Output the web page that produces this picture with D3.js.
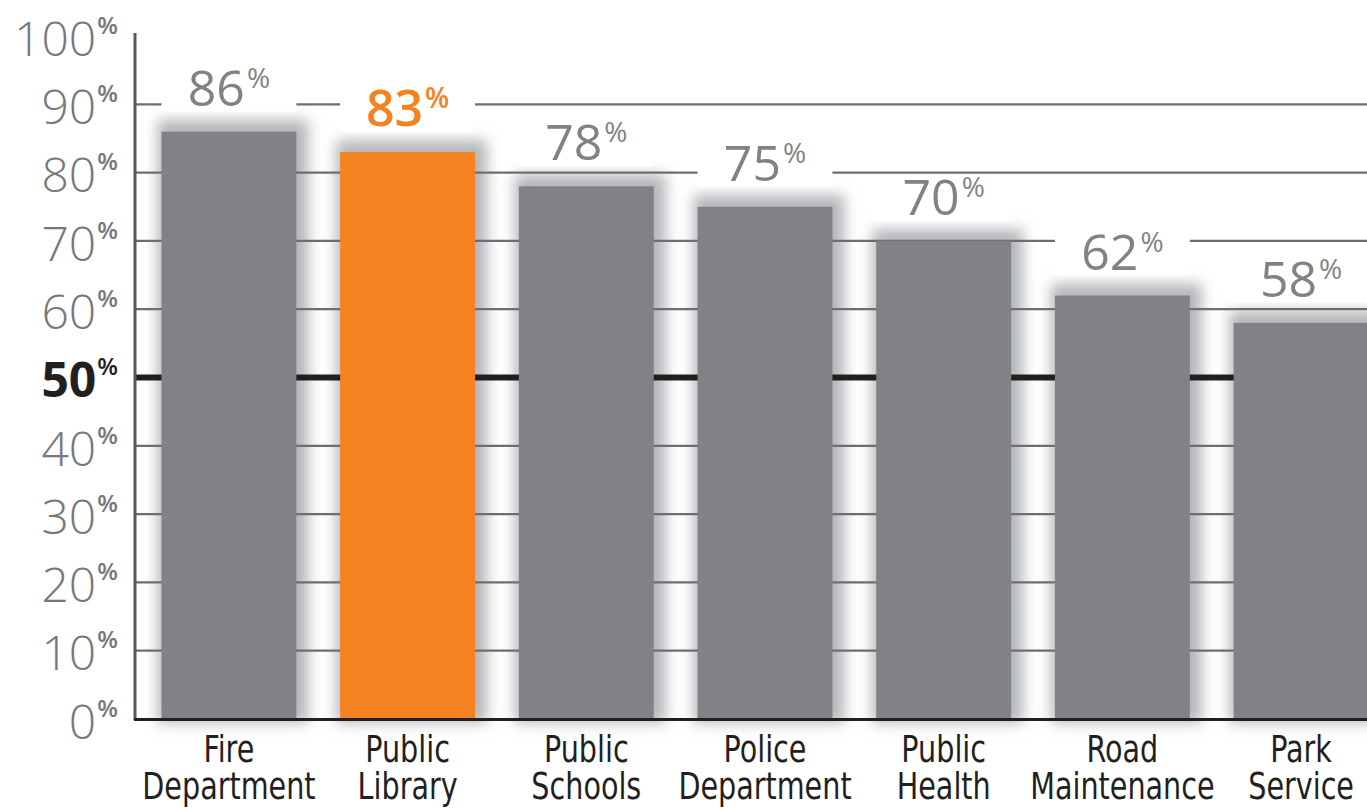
<!DOCTYPE html>
<html>
<head>
<meta charset="utf-8">
<script src="https://cdn.jsdelivr.net/npm/d3@7"></script>
<style>
  html, body { margin: 0; padding: 0; background: #ffffff; }
  svg { display: block; }
</style>
</head>
<body>
<svg id="chart" width="1367" height="809"></svg>
<script>
// Share of respondents rating each public service favourably
const categories = ["Fire Department", "Public Library", "Public Schools", "Police Department", "Public Health", "Road Maintenance", "Park Service"];
const values = [86, 83, 78, 75, 70, 62, 58];
const highlighted = ["Public Library"];
const yTicks = [0, 10, 20, 30, 40, 50, 60, 70, 80, 90, 100];
const gridTicks = [10, 20, 30, 40, 50, 60, 70, 80, 90];
const referenceTick = 50;

const W = 1367, H = 809;
const plotLeft = 135, plotRight = 1367, plotTop = 36, plotBottom = 719;

const svg = d3.select("#chart");
const numFont = "'Open Sans', 'DejaVu Sans', sans-serif";
const catFont = "'DejaVu Sans Condensed', 'DejaVu Sans', sans-serif";

const x = d3.scaleBand()
  .domain(categories)
  .range([plotLeft, 1395])
  .paddingInner(0.245)
  .paddingOuter(0.148);

const y = d3.scaleLinear().domain([0, 100]).range([plotBottom, plotTop]);

const rows = categories.map((c, i) => ({ cat: c, value: values[i], hi: highlighted.includes(c) }));

// soft shadow filter around each bar
const defs = svg.append("defs");
defs.append("filter")
  .attr("id", "soft")
  .attr("x", "-40%").attr("y", "-40%")
  .attr("width", "180%").attr("height", "180%")
  .append("feGaussianBlur").attr("stdDeviation", 7);

const plot = svg.append("g");

// bar glow
plot.append("g").selectAll("rect")
  .data(rows)
  .join("rect")
  .attr("x", d => x(d.cat) - 4)
  .attr("y", d => y(d.value) - 12)
  .attr("width", x.bandwidth() + 16)
  .attr("height", d => plotBottom - y(d.value) + 16)
  .attr("fill", "#b4b6b9")
  .attr("filter", "url(#soft)");

// horizontal gridlines
plot.append("g").selectAll("line")
  .data(gridTicks)
  .join("line")
  .attr("x1", plotLeft).attr("x2", plotRight)
  .attr("y1", d => y(d)).attr("y2", d => y(d))
  .attr("stroke", d => d === referenceTick ? "#231f20" : "#6d6e71")
  .attr("stroke-width", d => d === referenceTick ? 6 : 2.2);

// white backing behind value labels
plot.append("g").selectAll("rect")
  .data(rows)
  .join("rect")
  .attr("x", d => x(d.cat))
  .attr("y", d => y(d.value) - 66)
  .attr("width", x.bandwidth())
  .attr("height", 46)
  .attr("fill", "#ffffff");

// bars
plot.append("g").selectAll("rect")
  .data(rows)
  .join("rect")
  .attr("x", d => x(d.cat))
  .attr("y", d => y(d.value))
  .attr("width", x.bandwidth())
  .attr("height", d => plotBottom - y(d.value))
  .attr("fill", d => d.hi ? "#f58220" : "#808285");

// value labels
const vl = plot.append("g").selectAll("text")
  .data(rows)
  .join("text")
  .attr("x", d => x(d.cat) + x.bandwidth() / 2)
  .attr("y", d => y(d.value) - 26)
  .attr("text-anchor", "middle")
  .attr("font-family", numFont)
  .attr("fill", d => d.hi ? "#f58220" : "#808285")
  .attr("font-weight", d => d.hi ? 600 : 400);
vl.append("tspan").attr("font-size", 50).text(d => d.value);
vl.append("tspan").attr("font-size", 28).attr("dy", -18).attr("dx", 2).text("%");

// y axis
const yAxis = svg.append("g")
  .attr("transform", `translate(${plotLeft},0)`)
  .call(d3.axisLeft(y).tickValues(yTicks).tickSize(0).tickPadding(17).tickFormat(d => d));
yAxis.select(".domain").remove();
yAxis.selectAll(".tick text")
  .attr("font-family", numFont)
  .attr("font-size", 48)
  .attr("dy", "0.4em")
  .attr("fill", d => d === referenceTick ? "#231f20" : "#77787b")
  .attr("font-weight", d => d === referenceTick ? 700 : 300)
  .append("tspan")
  .attr("font-size", 24)
  .attr("font-weight", 600)
  .attr("dy", -22)
  .attr("dx", 1)
  .text("%");

svg.append("line")
  .attr("x1", plotLeft).attr("x2", plotLeft)
  .attr("y1", 33).attr("y2", plotBottom + 1)
  .attr("stroke", "#58595b").attr("stroke-width", 3);

// x axis: two-line category names in a narrow face
const xAxis = svg.append("g")
  .attr("transform", `translate(0,${plotBottom})`)
  .call(d3.axisBottom(x).tickSize(0).tickPadding(0));
xAxis.select(".domain").remove();
xAxis.selectAll(".tick text").each(function (d) {
  const t = d3.select(this);
  const parts = d.split(" ");
  t.text(null).attr("dy", null).attr("y", 0)
    .attr("transform", "scale(0.86,1)")
    .attr("font-family", catFont)
    .attr("font-size", 37)
    .attr("fill", "#231f20");
  t.append("tspan").attr("x", 0).attr("y", 43).text(parts[0]);
  t.append("tspan").attr("x", 0).attr("y", 80).text(parts.slice(1).join(" "));
});

svg.append("line")
  .attr("x1", plotLeft - 1).attr("x2", plotRight)
  .attr("y1", plotBottom + 0.5).attr("y2", plotBottom + 0.5)
  .attr("stroke", "#231f20").attr("stroke-width", 3);
</script>
</body>
</html>
